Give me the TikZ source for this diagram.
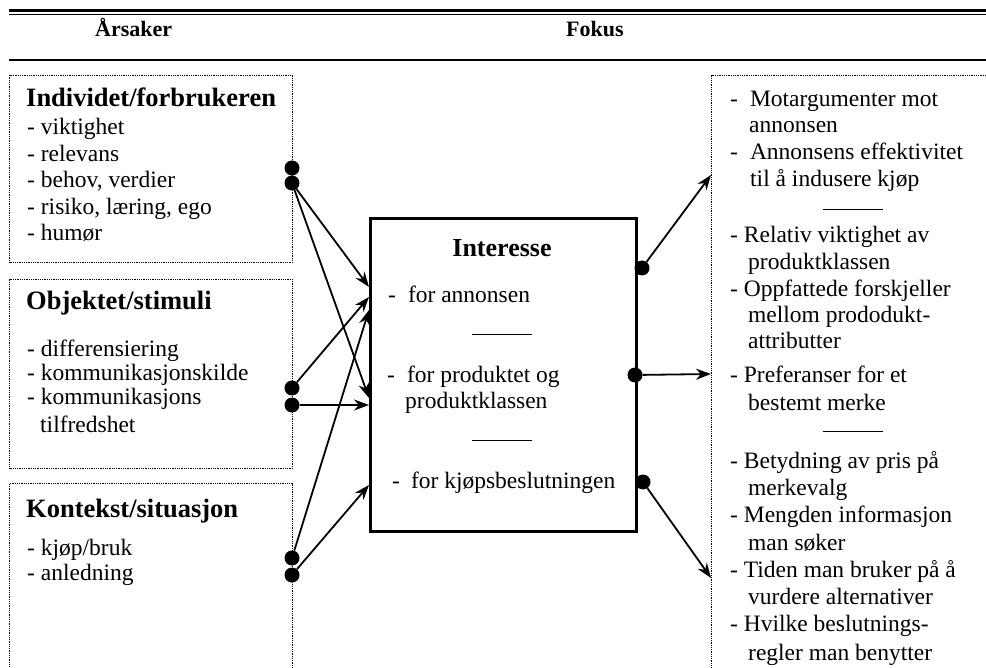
\documentclass[tikz,border=0pt]{standalone}
\usepackage{fontspec}
\setmainfont{Liberation Serif}
\usetikzlibrary{arrows.meta}
\begin{document}
\begin{tikzpicture}[x=1pt,y=-1pt,
  txt/.style={anchor=base west,inner sep=0pt,font=\fontsize{23.5}{27}\selectfont},
  head/.style={anchor=base west,inner sep=0pt,font=\fontsize{26.5}{30}\selectfont\bfseries},
  colhead/.style={anchor=base west,inner sep=0pt,font=\fontsize{22}{26}\selectfont\bfseries},
  dotbox/.style={draw,dash pattern=on 1pt off 0.8pt,line width=1pt,inner sep=0pt,anchor=north west},
  dotnode/.style={circle,fill,inner sep=0pt,minimum size=15pt},
  arr/.style={line width=1.8pt,-{Stealth[length=15pt,width=11pt]}},
  rulestyle/.style={line width=1pt}]
\useasboundingbox (0,0) rectangle (986,668);
\clip (0,0) rectangle (986,668);
% top rules
\draw[line width=3pt] (9,11) -- (986,11);
\draw[line width=1.2pt] (9,14.5) -- (986,14.5);
\draw[line width=1.5pt] (9,60) -- (986,60);
\node[colhead] (h1) at (95,37) {Årsaker};
\node[colhead] (h2) at (566,37) {Fokus};
% boxes
\node[dotbox,minimum width=283pt,minimum height=187pt] (b1) at (9,75) {};
\node[dotbox,minimum width=283pt,minimum height=189pt] (b2) at (9,279) {};
\node[dotbox,minimum width=283pt,minimum height=220pt] (b3) at (9,483) {};
\node[dotbox,minimum width=300pt,minimum height=650pt] (rb) at (711,75) {};
\node[draw,line width=3pt,inner sep=0pt,anchor=north west,minimum width=266pt,minimum height=313pt] (cb) at (369,217) {};
% box 1 text
\node[head] (t11) at (26,107) {Individet/forbrukeren};
\node[txt] (t12) at (27,135) {- viktighet};
\node[txt] (t13) at (27,162) {- relevans};
\node[txt] (t14) at (27,188) {- behov, verdier};
\node[txt] (t15) at (27,215) {- risiko, læring, ego};
\node[txt] (t16) at (27,241) {- humør};
% box 2 text
\node[head] (t21) at (26,310) {Objektet/stimuli};
\node[txt] (t22) at (27,357) {- differensiering};
\node[txt] (t23) at (27,381) {- kommunikasjonskilde};
\node[txt] (t24) at (27,405) {- kommunikasjons};
\node[txt] (t25) at (40,432) {tilfredshet};
% box 3 text
\node[head] (t31) at (26,517) {Kontekst/situasjon};
\node[txt] (t32) at (27,555) {- kjøp/bruk};
\node[txt] (t33) at (27,580) {- anledning};
% centre text
\node[anchor=base,inner sep=0pt,font=\fontsize{26}{30}\selectfont\bfseries] (c1) at (502,257) {Interesse};
\node[txt] (c2) at (388,303) {-\hspace{12pt}for annonsen};
\draw[rulestyle] (472,335) -- (532,335);
\node[txt] (c3) at (387,383) {-\hspace{12pt}for produktet og};
\node[txt] (c4) at (405,409) {produktklassen};
\draw[rulestyle] (472,440) -- (532,440);
\node[txt] (c5) at (392,488) {-\hspace{11pt}for kjøpsbeslutningen};
% right text
\node[txt] (r1) at (730,107) {-\hspace{12pt}Motargumenter mot};
\node[txt] (r2) at (749,133) {annonsen};
\node[txt] (r3) at (730,160) {-\hspace{12pt}Annonsens effektivitet};
\node[txt] (r4) at (750,187) {til å indusere kjøp};
\draw[rulestyle] (823,210) -- (883,210);
\node[txt] (r5) at (730,243) {- Relativ viktighet av};
\node[txt] (r6) at (748,270) {produktklassen};
\node[txt] (r7) at (730,297) {- Oppfattede forskjeller};
\node[txt] (r8) at (748,323) {mellom prododukt-};
\node[txt] (r9) at (748,349) {attributter};
\node[txt] (r10) at (730,383) {- Preferanser for et};
\node[txt] (r11) at (748,410) {bestemt merke};
\draw[rulestyle] (823,432) -- (883,432);
\node[txt] (r12) at (730,468) {- Betydning av pris på};
\node[txt] (r13) at (748,495) {merkevalg};
\node[txt] (r14) at (730,522) {- Mengden informasjon};
\node[txt] (r15) at (748,550) {man søker};
\node[txt] (r16) at (730,577) {- Tiden man bruker på å};
\node[txt] (r17) at (748,604) {vurdere alternativer};
\node[txt] (r18) at (730,631) {- Hvilke beslutnings-};
\node[txt] (r19) at (748,660) {regler man benytter};
% dots
\node[dotnode] (d1a) at (292,168) {};
\node[dotnode] (d1b) at (292,183) {};
\node[dotnode] (d2a) at (292,388) {};
\node[dotnode] (d2b) at (292,405) {};
\node[dotnode] (d3a) at (292,558) {};
\node[dotnode] (d3b) at (292,575) {};
\node[dotnode] (e1) at (642,268) {};
\node[dotnode] (e2) at (635,375) {};
\node[dotnode] (e3) at (643,482) {};
% targets
\coordinate (p1) at (369,287);
\coordinate (p2) at (369,398);
\coordinate (p3) at (369,297);
\coordinate (p4) at (369,405);
\coordinate (p5) at (369,310);
\coordinate (p6) at (369,485);
\coordinate (q1) at (711,175);
\coordinate (q2) at (711,374);
\coordinate (q3) at (711,578);
% arrows
\draw[arr] (d1b) -- (p1);
\draw[arr] (d1b) -- (p2);
\draw[arr] (d2a) -- (p3);
\draw[arr] (d2b) -- (p4);
\draw[arr] (d3a) -- (p5);
\draw[arr] (d3b) -- (p6);
\draw[arr] (e1) -- (q1);
\draw[arr] (e2) -- (q2);
\draw[arr] (e3) -- (q3);
\end{tikzpicture}
\end{document}
